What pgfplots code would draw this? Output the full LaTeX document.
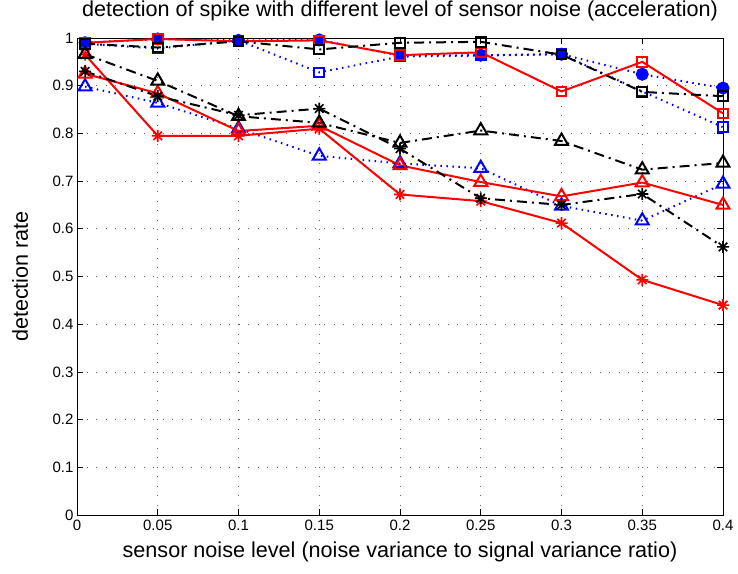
\documentclass[border=0pt]{standalone}
\usepackage{fontspec}
\setmainfont{Liberation Sans}
\usepackage{pgfplots}
\pgfplotsset{compat=1.18}
\pgfdeclareplotmark{mstar}{%
  \pgfpathmoveto{\pgfpoint{-\pgfplotmarksize}{0pt}}\pgfpathlineto{\pgfpoint{\pgfplotmarksize}{0pt}}%
  \pgfpathmoveto{\pgfpoint{0pt}{-\pgfplotmarksize}}\pgfpathlineto{\pgfpoint{0pt}{\pgfplotmarksize}}%
  \pgfpathmoveto{\pgfpoint{-0.707\pgfplotmarksize}{-0.707\pgfplotmarksize}}\pgfpathlineto{\pgfpoint{0.707\pgfplotmarksize}{0.707\pgfplotmarksize}}%
  \pgfpathmoveto{\pgfpoint{-0.707\pgfplotmarksize}{0.707\pgfplotmarksize}}\pgfpathlineto{\pgfpoint{0.707\pgfplotmarksize}{-0.707\pgfplotmarksize}}%
  \pgfusepathqstroke}
\pgfplotstableread{
x    rs     ks     bc     bs     rt     kt     bt     rx     kx
0.005 0.990 0.988 0.990 0.988 0.925 0.966 0.898 0.965 0.930
0.05  0.998 0.980 0.998 0.978 0.884 0.910 0.864 0.795 0.878
0.1   0.993 0.993 0.995 0.995 0.805 0.836 0.810 0.795 0.838
0.15  0.995 0.976 0.996 0.928 0.816 0.822 0.753 0.810 0.852
0.2   0.964 0.990 0.963 0.961 0.733 0.780 0.737 0.672 0.768
0.25  0.970 0.992 0.964 0.963 0.698 0.806 0.727 0.658 0.664
0.3   0.888 0.965 0.966 0.966 0.668 0.784 0.648 0.612 0.650
0.35  0.950 0.887 0.924 0.888 0.697 0.724 0.617 0.493 0.673
0.4   0.842 0.878 0.895 0.813 0.650 0.738 0.694 0.440 0.562
}\data
\begin{document}
\begin{tikzpicture}
\path[use as bounding box] (-77pt,-58pt) rectangle (661pt,515pt);
\begin{axis}[
  at={(0,0)}, anchor=south west,
  width=646pt, height=477pt, scale only axis,
  xmin=0, xmax=0.4, ymin=0, ymax=1,
  xtick={0,0.05,0.1,0.15,0.2,0.25,0.3,0.35,0.4},
  ytick={0,0.1,0.2,0.3,0.4,0.5,0.6,0.7,0.8,0.9,1},
  /pgf/number format/.cd, fixed, precision=2, assume math mode=true, /pgfplots/.cd,
  ticklabel style={font=\fontsize{15}{17}\selectfont},
  xticklabel style={yshift=-1pt},
  title style={font=\fontsize{21.6}{24}\selectfont, at={(axis description cs:0.5,1.033)}, anchor=base},
  xlabel style={font=\fontsize{21.6}{24}\selectfont, at={(axis description cs:0.5,-0.090)}, anchor=base},
  ylabel style={font=\fontsize{21.6}{24}\selectfont, at={(axis description cs:-0.076,0.5)}, anchor=base},
  title={detection of spike with different level of sensor noise (acceleration)},
  xlabel={sensor noise level (noise variance to signal variance ratio)},
  ylabel={detection rate},
  tick align=inside, major tick length=6pt,
  tick style={black, line width=0.6pt},
  axis line style={black, line width=0.8pt},
  grid=major,
  major grid style={gray!80!black, line width=0.6pt, dash pattern=on 0.8pt off 8.7pt},
  every axis plot/.append style={line width=2pt},
  clip=false,
]
\addplot[blue, dash pattern=on 1.5pt off 4.5pt, mark=*, mark size=5.5pt, mark options={solid, fill=blue}] table[x=x,y=bc]{\data};
\addplot[blue, dash pattern=on 1.5pt off 4.5pt, mark=square, mark size=4.8pt, mark options={solid}] table[x=x,y=bs]{\data};
\addplot[blue, dash pattern=on 1.5pt off 4.5pt, mark=triangle, mark size=7.5pt, mark options={solid}] table[x=x,y=bt]{\data};
\addplot[red, mark=square, mark size=4.8pt, mark options={solid}] table[x=x,y=rs]{\data};
\addplot[red, mark=triangle, mark size=7.5pt, mark options={solid}] table[x=x,y=rt]{\data};
\addplot[red, mark=mstar, mark size=6pt, mark options={solid, line width=1.6pt}] table[x=x,y=rx]{\data};
\addplot[black, dash pattern=on 10pt off 5pt on 2pt off 5pt, mark=square, mark size=4.8pt, mark options={solid}] table[x=x,y=ks]{\data};
\addplot[black, dash pattern=on 10pt off 5pt on 2pt off 5pt, mark=triangle, mark size=7.5pt, mark options={solid}] table[x=x,y=kt]{\data};
\addplot[black, dash pattern=on 10pt off 5pt on 2pt off 5pt, mark=mstar, mark size=6pt, mark options={solid, line width=1.6pt}] table[x=x,y=kx]{\data};
\end{axis}
\end{tikzpicture}
\end{document}
